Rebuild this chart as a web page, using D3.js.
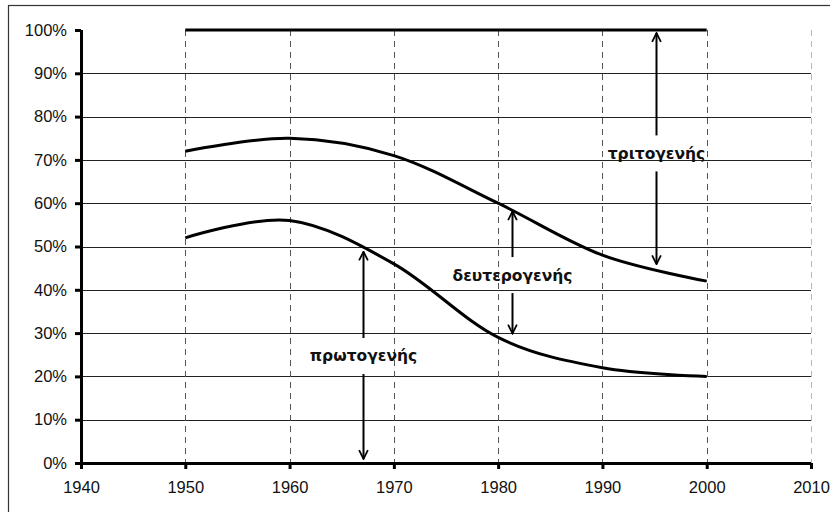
<!DOCTYPE html>
<html>
<head>
<meta charset="utf-8">
<script src="https://cdn.jsdelivr.net/npm/d3@7"></script>
<style>
  html, body { margin: 0; padding: 0; background: #fff; }
  svg { display: block; }
</style>
</head>
<body>
<svg id="chart" width="830" height="512"></svg>
<script>
// data
const years = [1950, 1960, 1970, 1980, 1990, 2000];
const tertiaryTop = [100, 100, 100, 100, 100, 100];
const secondaryTop = [72, 75, 71, 60, 48, 42];
const primaryTop = [52, 56, 46, 29, 22, 20];

const xTicks = [1940, 1950, 1960, 1970, 1980, 1990, 2000, 2010];
const yTicks = [0, 10, 20, 30, 40, 50, 60, 70, 80, 90, 100];

// sector labels with the span their arrows cover
const sectorLabels = ["πρωτογενής", "δευτερογενής", "τριτογενής"];
const labelYear = [1967.0, 1981.3, 1995.1];
const labelValue = [24.7, 43.4, 71.5];
const spanLow = [0, 29, 45];
const spanHigh = [49.5, 58.8, 100];

const svg = d3.select("#chart");
const margin = { left: 81, right: 19, top: 30, bottom: 49 };
const W = 830, H = 512;

const x = d3.scaleLinear().domain([1940, 2010]).range([margin.left, W - margin.right]);
const y = d3.scaleLinear().domain([0, 100]).range([H - margin.bottom, margin.top]);

// outer frame (runs off the right/bottom edge like the source)
svg.append("rect")
  .attr("x", 8.5).attr("y", 5.5)
  .attr("width", 840).attr("height", 530)
  .attr("fill", "none")
  .attr("stroke", "#333")
  .attr("stroke-width", 1.2);

// horizontal grid
svg.append("g")
  .selectAll("line")
  .data(yTicks.filter((d) => d > 0 && d < 100))
  .join("line")
  .attr("x1", x(1940)).attr("x2", x(2010))
  .attr("y1", (d) => Math.round(y(d)) + 0.5)
  .attr("y2", (d) => Math.round(y(d)) + 0.5)
  .attr("stroke", "#222")
  .attr("stroke-width", 1);

// vertical dashed grid
svg.append("g")
  .selectAll("line")
  .data(xTicks.filter((d) => d > 1940))
  .join("line")
  .attr("x1", (d) => Math.round(x(d)) + 0.5)
  .attr("x2", (d) => Math.round(x(d)) + 0.5)
  .attr("y1", y(100)).attr("y2", y(0))
  .attr("stroke", (d) => (d === 2010 ? "#b8b8b8" : "#555"))
  .attr("stroke-width", 1)
  .attr("stroke-dasharray", "6,5");

// axes
const yAxis = d3.axisLeft(y)
  .tickValues(yTicks)
  .tickFormat((d) => d + "%")
  .tickSize(6)
  .tickPadding(8);
const yg = svg.append("g")
  .attr("transform", `translate(${x(1940)},0)`)
  .call(yAxis);

const xAxis = d3.axisBottom(x)
  .tickValues(xTicks)
  .tickFormat(d3.format("d"))
  .tickSize(6)
  .tickPadding(12);
const xg = svg.append("g")
  .attr("transform", `translate(0,${y(0)})`)
  .call(xAxis);

[yg, xg].forEach((g) => {
  g.select(".domain").attr("stroke", "#000").attr("stroke-width", 3);
  g.selectAll(".tick line").attr("stroke", "#000").attr("stroke-width", 3);
  g.selectAll(".tick text")
    .attr("fill", "#111")
    .style("font-family", "'Liberation Sans', Arial, sans-serif")
    .style("font-size", "16.5px");
});
yg.select(".domain").attr("d", `M0.5,${y(100)}V${y(0)}`);
xg.select(".domain").attr("d", `M${x(1940)},0.5H${x(2010)}`);

// series
const line = d3.line()
  .x((d, i) => x(years[i]))
  .y((d) => y(d))
  .curve(d3.curveCardinal.tension(0));

[tertiaryTop, secondaryTop, primaryTop].forEach((series) => {
  svg.append("path")
    .datum(series)
    .attr("d", line)
    .attr("fill", "none")
    .attr("stroke", "#000")
    .attr("stroke-width", 3)
    .attr("stroke-linecap", "butt");
});

// arrow marker
svg.append("defs").append("marker")
  .attr("id", "arrow")
  .attr("viewBox", "0 0 10 10")
  .attr("refX", 9).attr("refY", 5)
  .attr("markerWidth", 5.5).attr("markerHeight", 5.5)
  .attr("markerUnits", "strokeWidth")
  .attr("orient", "auto")
  .append("path")
  .attr("d", "M1,1 L9,5 L1,9")
  .attr("fill", "none")
  .attr("stroke", "#000")
  .attr("stroke-width", 1.6);

const gap = 18;
const ann = svg.append("g");
sectorLabels.forEach((label, i) => {
  const cx = Math.round(x(labelYear[i])) + 0.5;
  const cy = y(labelValue[i]);
  ann.append("line")
    .attr("x1", cx).attr("x2", cx)
    .attr("y1", cy - gap).attr("y2", y(spanHigh[i]) + 3)
    .attr("stroke", "#000").attr("stroke-width", 2)
    .attr("marker-end", "url(#arrow)");
  ann.append("line")
    .attr("x1", cx).attr("x2", cx)
    .attr("y1", cy + gap).attr("y2", y(spanLow[i]) - 4)
    .attr("stroke", "#000").attr("stroke-width", 2)
    .attr("marker-end", "url(#arrow)");
  ann.append("text")
    .attr("x", cx).attr("y", cy)
    .attr("text-anchor", "middle")
    .attr("dy", "0.35em")
    .attr("fill", "#111")
    .style("font-family", "'DejaVu Sans', Verdana, sans-serif")
    .style("font-weight", "bold")
    .style("font-size", "15.5px")
    .text(label);
});
</script>
</body>
</html>
